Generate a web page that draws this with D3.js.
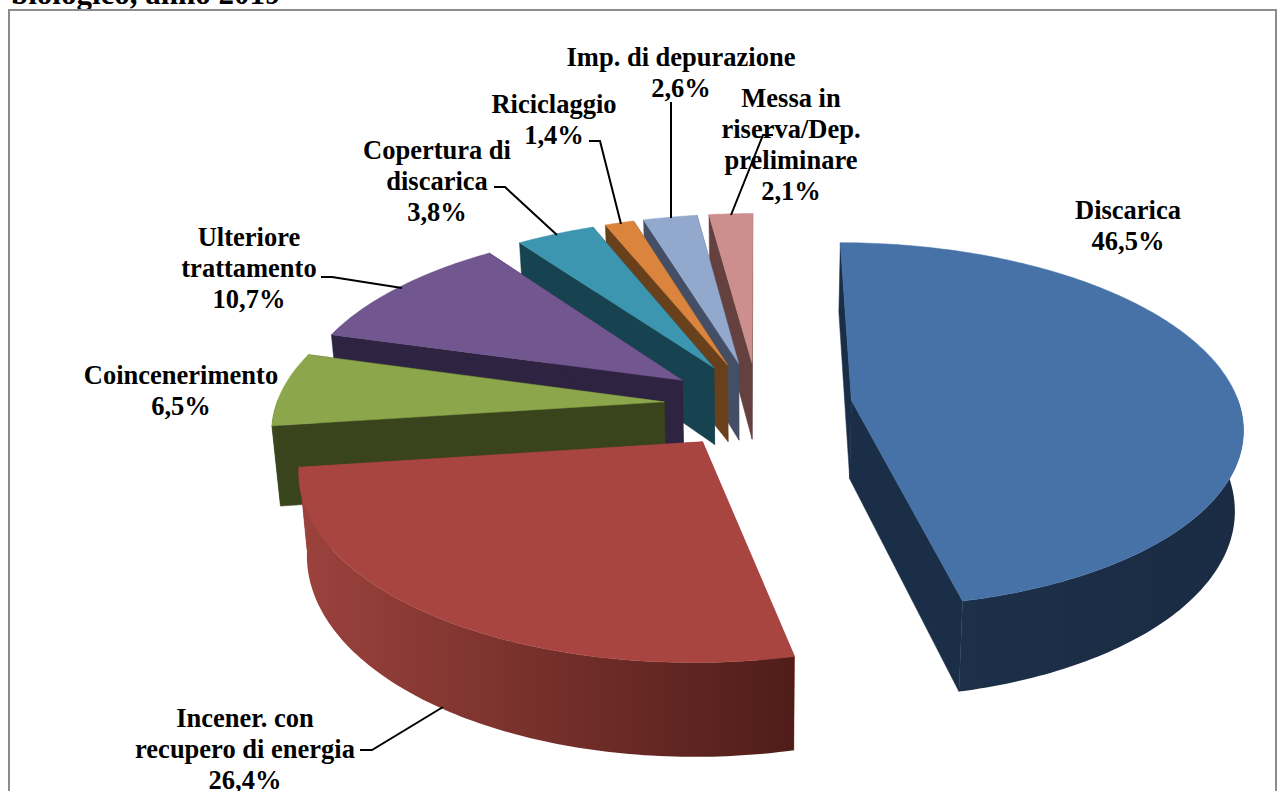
<!DOCTYPE html>
<html><head><meta charset="utf-8">
<script src="https://cdn.jsdelivr.net/npm/d3@7"></script>
<style>html,body{margin:0;padding:0;background:#fff;overflow:hidden}svg{display:block}
text{font-family:"Liberation Serif",serif;font-weight:bold;fill:#000}</style></head><body>
<script>
// ---- data ----
const categories = ["Discarica","Incener. con recupero di energia","Coincenerimento","Ulteriore trattamento","Copertura di discarica","Riciclaggio","Imp. di depurazione","Messa in riserva/Dep. preliminare"];
const values = [46.5,26.4,6.5,10.7,3.8,1.4,2.6,2.1];
const valueLabels = ["46,5%","26,4%","6,5%","10,7%","3,8%","1,4%","2,6%","2,1%"];
const labelLines = [["Discarica"],["Incener. con","recupero di energia"],["Coincenerimento"],["Ulteriore","trattamento"],["Copertura di","discarica"],["Riciclaggio"],["Imp. di depurazione"],["Messa in","riserva/Dep.","preliminare"]];
const topColors = ["#4672a8","#a84541","#8ba64b","#71568f","#3d96af","#db843d","#92a8cd","#cd8f8d"];
const faceColors = ["#1b2e48","#96403b","#39431c","#2f2342","#174350","#69401c","#444f66","#64413f"];
const wallStops = [["#1c3049","#1a2b43"],["#9c423d","#4f1d19"],["#3f4a1f","#39431c"],["#2f2342","#2f2342"],["#174350","#174350"],["#69401c","#69401c"],["#444f66","#444f66"],["#64413f","#64413f"]];
const title = "biologico, anno 2019";

// ---- layout ----
const W=1284,H=791;
const cx=758, cy=405, Rx=388, Ry=180, depth=79, persp=0.135, shrink=0.018, explode=0.243;
const labelPos=[[1128,219],[245,727],[181,384],[249,246],[437,159],[554,113],[681,66],[791,107]];
const labelGap=31;
const leaders=[null,[[360,750],[372,750],[443,707]],null,[[321,277],[332,277],[402,288]],[[494,187],[505,187],[557,235]],[[589,141],[600,141],[621,224]],[[671,102],[671,218]],[[773,135],[763,135],[731,215]]];

const svg=d3.select("body").append("svg").attr("width",W).attr("height",H);
const defs=svg.append("defs");
svg.append("text").attr("x",11).attr("y",4).attr("font-size",31).text(title);
svg.append("rect").attr("x",9).attr("y",10).attr("width",1267).attr("height",H+20).attr("fill","none").attr("stroke","#8c8c8c").attr("stroke-width",2);

const scaleX=d3.scaleLinear().domain([0,1]).range([cx,cx+Rx]);
const proj=(u,v,h)=>{const w=1-persp*v, s=1+shrink*h;
  return [scaleX(u/(w*s)), cy+(v*Ry+h*depth)/w];};
const pie=d3.pie().sort(null).startAngle(0).endAngle(2*Math.PI)(values);
const line=d3.line();
const slices=pie.map((p,i)=>{const mid=(p.startAngle+p.endAngle)/2;
  return {i,a0:p.startAngle,a1:p.endAngle,ou:explode*Math.sin(mid),ov:-explode*Math.cos(mid)};});
const P=(s,a,r,h)=>proj(s.ou+r*Math.sin(a),s.ov-r*Math.cos(a),h);
const ordered=slices.slice().sort((a,b)=>a.ov-b.ov);
const g=svg.append("g");
ordered.forEach(s=>{
  const i=s.i, n=Math.max(6,Math.ceil((s.a1-s.a0)*60));
  const ang=d3.range(n+1).map(k=>s.a0+(s.a1-s.a0)*k/n);
  [s.a0,s.a1].forEach(a=>{
    g.append("path").attr("fill",faceColors[i]).attr("stroke",faceColors[i]).attr("stroke-width",.5)
     .attr("d",line([P(s,0,0,0),P(s,a,1,0),P(s,a,1,1),P(s,0,0,1)])+"Z");
  });
  const vis=ang.filter(a=>Math.cos(a)<0.02);
  if(vis.length>1){
    const top=vis.map(a=>P(s,a,1,0)), bot=vis.map(a=>P(s,a,1,1)).reverse();
    const ext=d3.extent(top,d=>d[0]);
    const id="w"+i;
    const lg=defs.append("linearGradient").attr("id",id).attr("gradientUnits","userSpaceOnUse")
      .attr("x1",ext[0]).attr("x2",ext[1]).attr("y1",0).attr("y2",0);
    lg.append("stop").attr("offset",0).attr("stop-color",wallStops[i][0]);
    lg.append("stop").attr("offset",1).attr("stop-color",wallStops[i][1]);
    g.append("path").attr("fill","url(#"+id+")").attr("d",line(top.concat(bot))+"Z");
  }
  g.append("path").attr("fill",topColors[i]).attr("stroke",topColors[i]).attr("stroke-width",.5)
   .attr("d",line([P(s,0,0,0)].concat(ang.map(a=>P(s,a,1,0))))+"Z");
});
leaders.forEach(l=>{ if(l) svg.append("path").attr("d",line(l)).attr("fill","none").attr("stroke","#000").attr("stroke-width",2); });
categories.forEach((c,i)=>{
  const lines=labelLines[i].concat([valueLabels[i]]);
  const t=svg.append("text").attr("text-anchor","middle").attr("font-size",26.5);
  lines.forEach((ln,k)=>t.append("tspan").attr("x",labelPos[i][0]).attr("y",labelPos[i][1]+k*labelGap).text(ln));
});
</script></body></html>
